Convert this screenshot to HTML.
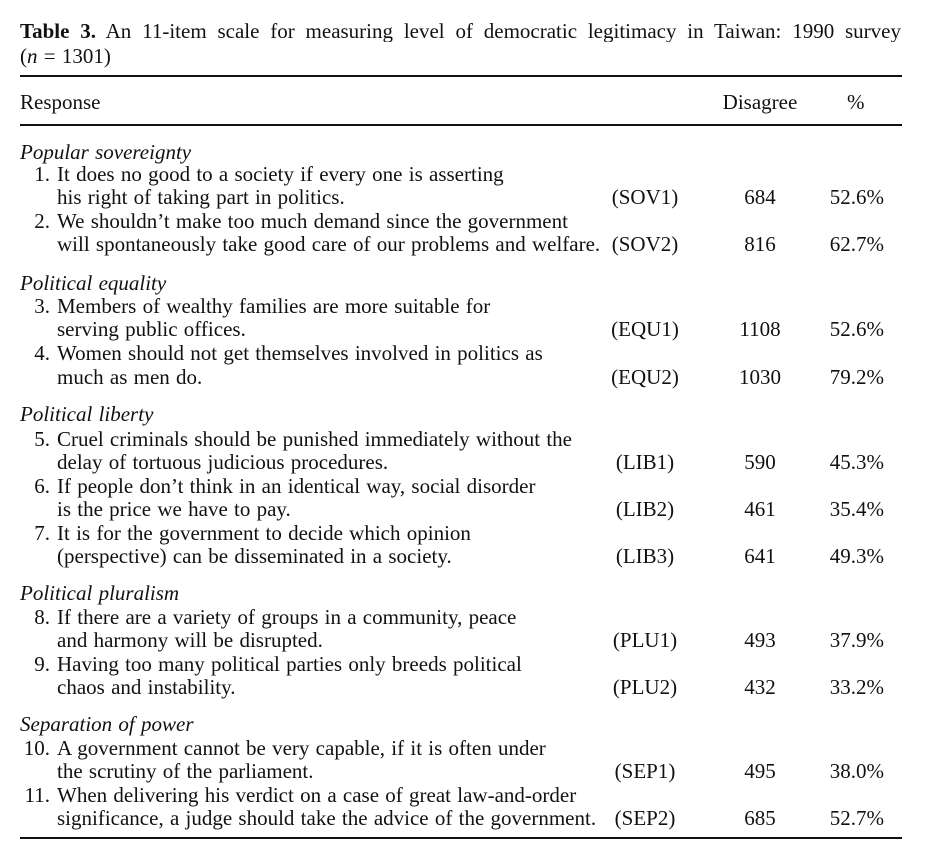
<!DOCTYPE html>
<html><head><meta charset="utf-8"><style>
body{margin:0;background:#fff;width:925px;height:865px;position:relative;overflow:hidden;font-family:"Liberation Serif",serif;color:#111;font-size:21px;word-spacing:1px}
.t{position:absolute;white-space:nowrap;line-height:22px}
.r{position:absolute;left:20px;width:882px;background:#111}
.n{position:absolute;width:34px;text-align:right;left:16px;white-space:nowrap;line-height:22px}
.c{position:absolute;left:590px;width:110px;text-align:center;line-height:22px}
.d{position:absolute;left:720px;width:80px;text-align:center;line-height:22px}
.p{position:absolute;left:790px;width:94px;text-align:right;line-height:22px}
i{font-style:italic}
</style></head><body>
<div class="t" style="left:20px;top:20px;width:881px;text-align:justify;text-align-last:justify;white-space:normal;height:22px;overflow:hidden;word-spacing:0"><b>Table 3.</b> An 11-item scale for measuring level of democratic legitimacy in Taiwan: 1990 survey</div>
<div class="t" style="left:20px;top:45px">(<i>n</i> = 1301)</div>
<div class="r" style="top:75px;height:2px"></div>
<div class="t" style="left:20px;top:91px">Response</div>
<div class="d" style="top:91px">Disagree</div>
<div class="t" style="left:847px;top:91px">%</div>
<div class="r" style="top:124px;height:2px"></div>

<div class="t" style="left:20px;top:141px"><i>Popular sovereignty</i></div>
<div class="n" style="top:163px">1.</div>
<div class="t" style="left:57px;top:163px">It does no good to a society if every one is asserting</div>
<div class="t" style="left:57px;top:186px">his right of taking part in politics.</div>
<div class="c" style="top:186px">(SOV1)</div>
<div class="d" style="top:186px">684</div>
<div class="p" style="top:186px">52.6%</div>
<div class="n" style="top:210px">2.</div>
<div class="t" style="left:57px;top:210px">We shouldn’t make too much demand since the government</div>
<div class="t" style="left:57px;top:233px">will spontaneously take good care of our problems and welfare.</div>
<div class="c" style="top:233px">(SOV2)</div>
<div class="d" style="top:233px">816</div>
<div class="p" style="top:233px">62.7%</div>

<div class="t" style="left:20px;top:272px"><i>Political equality</i></div>
<div class="n" style="top:295px">3.</div>
<div class="t" style="left:57px;top:295px">Members of wealthy families are more suitable for</div>
<div class="t" style="left:57px;top:318px">serving public offices.</div>
<div class="c" style="top:318px">(EQU1)</div>
<div class="d" style="top:318px">1108</div>
<div class="p" style="top:318px">52.6%</div>
<div class="n" style="top:342px">4.</div>
<div class="t" style="left:57px;top:342px">Women should not get themselves involved in politics as</div>
<div class="t" style="left:57px;top:366px">much as men do.</div>
<div class="c" style="top:366px">(EQU2)</div>
<div class="d" style="top:366px">1030</div>
<div class="p" style="top:366px">79.2%</div>

<div class="t" style="left:20px;top:403px"><i>Political liberty</i></div>
<div class="n" style="top:428px">5.</div>
<div class="t" style="left:57px;top:428px">Cruel criminals should be punished immediately without the</div>
<div class="t" style="left:57px;top:451px">delay of tortuous judicious procedures.</div>
<div class="c" style="top:451px">(LIB1)</div>
<div class="d" style="top:451px">590</div>
<div class="p" style="top:451px">45.3%</div>
<div class="n" style="top:475px">6.</div>
<div class="t" style="left:57px;top:475px">If people don’t think in an identical way, social disorder</div>
<div class="t" style="left:57px;top:498px">is the price we have to pay.</div>
<div class="c" style="top:498px">(LIB2)</div>
<div class="d" style="top:498px">461</div>
<div class="p" style="top:498px">35.4%</div>
<div class="n" style="top:522px">7.</div>
<div class="t" style="left:57px;top:522px">It is for the government to decide which opinion</div>
<div class="t" style="left:57px;top:545px">(perspective) can be disseminated in a society.</div>
<div class="c" style="top:545px">(LIB3)</div>
<div class="d" style="top:545px">641</div>
<div class="p" style="top:545px">49.3%</div>

<div class="t" style="left:20px;top:582px"><i>Political pluralism</i></div>
<div class="n" style="top:606px">8.</div>
<div class="t" style="left:57px;top:606px">If there are a variety of groups in a community, peace</div>
<div class="t" style="left:57px;top:629px">and harmony will be disrupted.</div>
<div class="c" style="top:629px">(PLU1)</div>
<div class="d" style="top:629px">493</div>
<div class="p" style="top:629px">37.9%</div>
<div class="n" style="top:653px">9.</div>
<div class="t" style="left:57px;top:653px">Having too many political parties only breeds political</div>
<div class="t" style="left:57px;top:676px">chaos and instability.</div>
<div class="c" style="top:676px">(PLU2)</div>
<div class="d" style="top:676px">432</div>
<div class="p" style="top:676px">33.2%</div>

<div class="t" style="left:20px;top:713px"><i>Separation of power</i></div>
<div class="n" style="top:737px">10.</div>
<div class="t" style="left:57px;top:737px">A government cannot be very capable, if it is often under</div>
<div class="t" style="left:57px;top:760px">the scrutiny of the parliament.</div>
<div class="c" style="top:760px">(SEP1)</div>
<div class="d" style="top:760px">495</div>
<div class="p" style="top:760px">38.0%</div>
<div class="n" style="top:784px">11.</div>
<div class="t" style="left:57px;top:784px">When delivering his verdict on a case of great law-and-order</div>
<div class="t" style="left:57px;top:807px">significance, a judge should take the advice of the government.</div>
<div class="c" style="top:807px">(SEP2)</div>
<div class="d" style="top:807px">685</div>
<div class="p" style="top:807px">52.7%</div>
<div class="r" style="top:837px;height:2px"></div>
</body></html>
